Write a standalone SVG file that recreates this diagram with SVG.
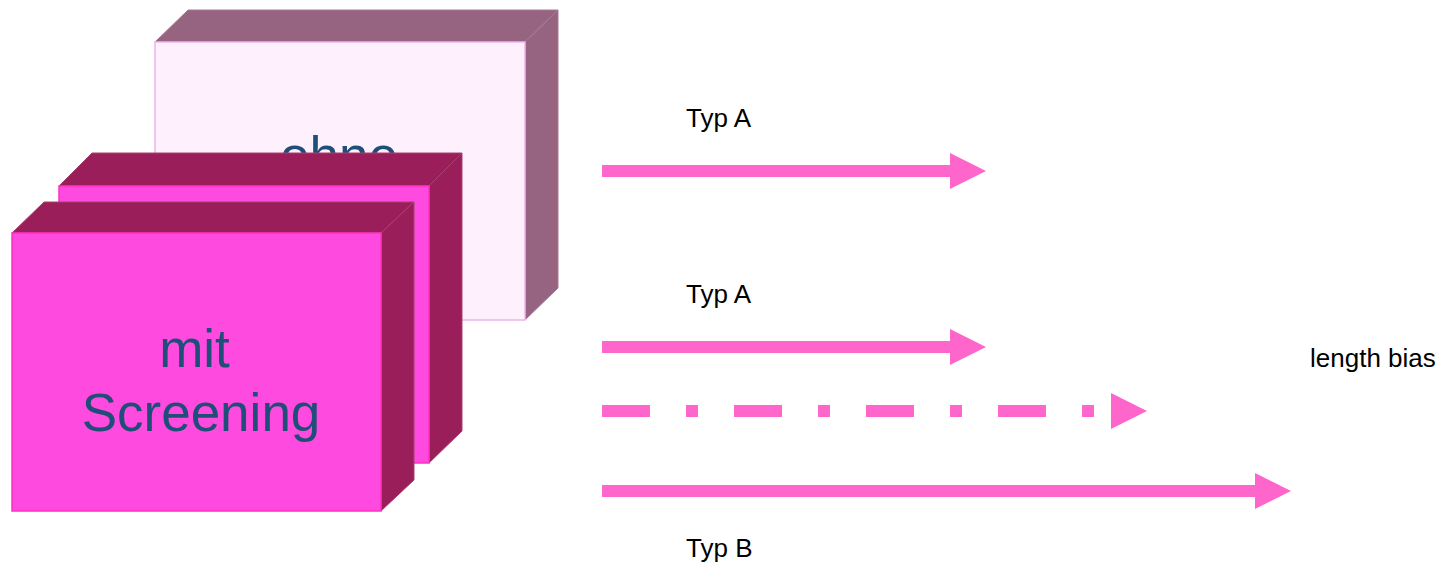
<svg xmlns="http://www.w3.org/2000/svg" width="1443" height="566" viewBox="0 0 1443 566">
<style>
  .lbl{font-family:"Liberation Sans",Arial,sans-serif;font-size:26px;fill:#000}
  .big{font-family:"Liberation Sans",Arial,sans-serif;font-size:53px;fill:#1F4E79;text-anchor:middle}
  .ohneFront{fill:#FFF0FD;stroke:#F0B4EA;stroke-width:1.5}
  .ohneSide{fill:#966480;stroke:#A87896;stroke-width:1}
  .mitFront{fill:#FF4ADF;stroke:#FF30C0;stroke-width:1.5}
  .mitSide{fill:#991E5A;stroke:#A8406E;stroke-width:1}
  .arr{stroke:#FF66CC;stroke-width:12;fill:none;stroke-linecap:butt}
</style>
<defs>
  <marker id="head" viewBox="0 0 36 36" markerWidth="36" markerHeight="36" markerUnits="userSpaceOnUse" refX="0" refY="18" orient="auto">
    <path d="M0,0 L36,18 L0,36 Z" fill="#FF66CC"/>
  </marker>
</defs>
<rect width="1443" height="566" fill="#FFFFFF"/>
<g id="box-ohne">
  <polygon class="ohneSide" points="155,42 188,10 558,10 525,42"/>
  <polygon class="ohneSide" points="525,42 558,10 558,288 525,320"/>
  <rect class="ohneFront" x="155" y="42" width="370" height="278"/>
  <text class="big" x="339" y="174">ohne</text>
</g>
<g id="box-mit-back">
  <polygon class="mitSide" points="59,186 92,153 462,153 429,186"/>
  <polygon class="mitSide" points="429,186 462,153 462,431 429,463"/>
  <rect class="mitFront" x="59" y="186" width="370" height="277"/>
</g>
<g id="box-mit">
  <polygon class="mitSide" points="12,233 44,202 414,202 381,233"/>
  <polygon class="mitSide" points="381,233 414,202 414,480 381,511"/>
  <rect class="mitFront" x="12" y="233" width="369" height="278"/>
  <text class="big" x="194.5" y="367">mit</text>
  <text class="big" x="201" y="431">Screening</text>
</g>
<g id="connectors">
  <line class="arr" x1="602" y1="171" x2="950" y2="171" marker-end="url(#head)"/>
  <line class="arr" x1="602" y1="347" x2="950" y2="347" marker-end="url(#head)"/>
  <line class="arr" x1="602" y1="411" x2="1111" y2="411" stroke-dasharray="48 36 12 36" marker-end="url(#head)"/>
  <line class="arr" x1="602" y1="491" x2="1255" y2="491" marker-end="url(#head)"/>
</g>
<g id="labels">
  <text class="lbl" x="686" y="127">Typ A</text>
  <text class="lbl" x="686" y="303">Typ A</text>
  <text class="lbl" x="686" y="557">Typ B</text>
  <text class="lbl" x="1310" y="367">length bias</text>
</g>
</svg>
